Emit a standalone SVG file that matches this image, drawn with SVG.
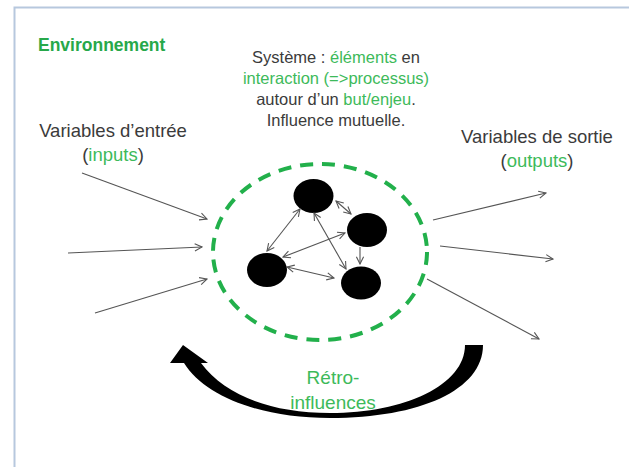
<svg xmlns="http://www.w3.org/2000/svg" width="629" height="467" viewBox="0 0 629 467">
<style>
.t{font-family:"Liberation Sans",Arial,sans-serif;fill:#3b3b3b}
.g{fill:#3dba5a}
.c{text-anchor:middle}
.ln{stroke:#555;stroke-width:1.1;fill:none;marker-end:url(#ah)}
.dl{marker-start:url(#ah)}
.node{fill:#000}
</style>
<defs>
<marker id="ah" viewBox="0 0 10 10" refX="9" refY="5" markerWidth="9" markerHeight="9" markerUnits="userSpaceOnUse" orient="auto-start-reverse">
<path d="M1,1 L9,5 L1,9" fill="none" stroke="#555" stroke-width="1.2"/>
</marker>
</defs>
<rect width="629" height="467" fill="#fff"/>
<path d="M14.5,467 V7.5 H629" fill="none" stroke="#b7c8de" stroke-width="2"/>

<text class="t" x="38" y="51" font-size="17.5" font-weight="bold" style="fill:#27a84a">Environnement</text>

<g id="system-text">
<text class="t c" x="336" y="63" font-size="16.5">Système : <tspan class="g">éléments</tspan> en</text>
<text class="t c g" x="336" y="84" font-size="16.5">interaction (=&gt;processus)</text>
<text class="t c" x="336" y="105" font-size="16.5">autour d’un <tspan class="g">but/enjeu</tspan>.</text>
<text class="t c" x="336" y="126" font-size="16.5">Influence mutuelle.</text>
</g>

<g id="inputs-label">
<text class="t c" x="113" y="137" font-size="18.5">Variables d’entrée</text>
<text class="t c" x="113" y="161" font-size="18.5">(<tspan class="g">inputs</tspan>)</text>
</g>
<g id="outputs-label">
<text class="t c" x="537" y="143" font-size="18.5">Variables de sortie</text>
<text class="t c" x="537" y="167" font-size="18.5">(<tspan class="g">outputs</tspan>)</text>
</g>

<g id="system">
<ellipse cx="320" cy="252" rx="107" ry="88" fill="none" stroke="#22b04b" stroke-width="4" stroke-dasharray="13 9"/>
</g>

<g id="nodeA"><ellipse class="node" cx="313.5" cy="196" rx="20" ry="17"/></g>
<g id="nodeB"><ellipse class="node" cx="367" cy="230" rx="20" ry="17"/></g>
<g id="nodeC"><ellipse class="node" cx="267" cy="270" rx="20" ry="17"/></g>
<g id="nodeD"><ellipse class="node" cx="361" cy="283" rx="20" ry="16.5"/></g>

<g id="connectors">
<line class="ln dl" x1="300" y1="209" x2="267" y2="251"/>
<line class="ln dl" x1="336" y1="201" x2="351" y2="214"/>
<line class="ln dl" x1="345" y1="233" x2="283" y2="257"/>
<line class="ln dl" x1="314" y1="213" x2="346" y2="269"/>
<line class="ln" x1="360" y1="247" x2="360" y2="264"/>
<line class="ln dl" x1="287" y1="267" x2="334" y2="278"/>

<line class="ln" x1="82" y1="173" x2="207" y2="219"/>
<line class="ln" x1="68" y1="253" x2="202" y2="247"/>
<line class="ln" x1="95" y1="313" x2="207" y2="279"/>

<line class="ln" x1="433" y1="220" x2="546" y2="193"/>
<line class="ln" x1="440" y1="246" x2="553" y2="259"/>
<line class="ln" x1="427" y1="279" x2="539" y2="339"/>
</g>

<g id="feedback">
<path d="M465,345 C465,385 405,413 330,413 C270,413 225,395 201,363 L208,363 L183,345 L170,363 L184,363 C205,397 262,418 330,418 C420,418 483,390 483,345 Z" fill="#000"/>
<text class="t c g" x="333" y="384" font-size="19">Rétro-</text>
<text class="t c g" x="333" y="409" font-size="19">influences</text>
</g>
</svg>
